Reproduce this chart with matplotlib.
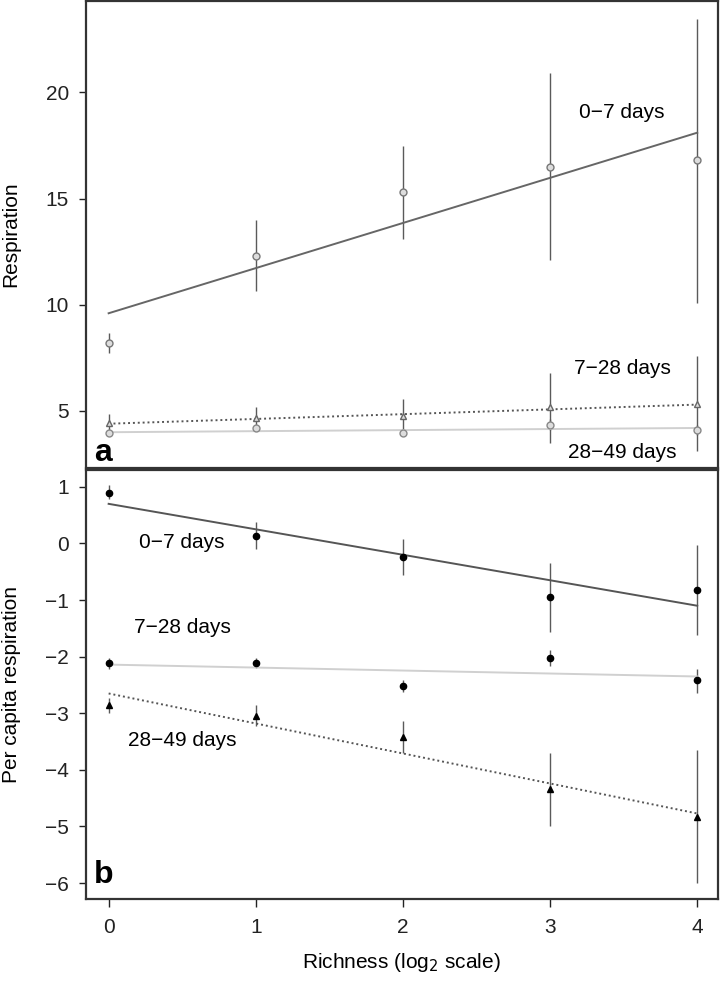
import matplotlib
matplotlib.use("Agg")
import matplotlib.pyplot as plt
import numpy as np

plt.rcParams['font.family'] = ['Liberation Sans', 'DejaVu Sans']

richness = [0, 1, 2, 3, 4]

# panel a: respiration
resp_07 = [8.2, 12.3, 15.3, 16.5, 16.8]
resp_07_lo = [7.75, 10.65, 13.1, 12.1, 10.1]
resp_07_hi = [8.65, 14.0, 17.45, 20.9, 23.45]
resp_07_fit = [9.6, 18.1]

resp_728 = [4.45, 4.67, 4.75, 5.18, 5.33]
resp_728_lo = [4.1, 4.2, 4.0, 3.5, 3.1]
resp_728_hi = [4.85, 5.2, 5.55, 6.8, 7.6]
resp_728_fit = [4.4, 5.3]

resp_2849 = [3.97, 4.2, 3.98, 4.34, 4.1]
resp_2849_lo = [3.85, 4.05, 3.8, 4.1, 3.85]
resp_2849_hi = [4.1, 4.35, 4.15, 4.6, 4.35]
resp_2849_fit = [4.0, 4.2]

# panel b: per capita respiration
pc_07 = [0.9, 0.14, -0.24, -0.95, -0.83]
pc_07_lo = [0.78, -0.09, -0.56, -1.57, -1.62]
pc_07_hi = [1.03, 0.38, 0.08, -0.35, -0.03]
pc_07_fit = [0.7, -1.1]

pc_728 = [-2.12, -2.11, -2.52, -2.02, -2.42]
pc_728_lo = [-2.22, -2.2, -2.62, -2.17, -2.64]
pc_728_hi = [-2.02, -2.02, -2.42, -1.88, -2.22]
pc_728_fit = [-2.14, -2.35]

pc_2849 = [-2.85, -3.04, -3.42, -4.34, -4.83]
pc_2849_lo = [-3.0, -3.23, -3.7, -5.0, -5.99]
pc_2849_hi = [-2.73, -2.85, -3.14, -3.7, -3.65]
pc_2849_fit = [-2.65, -4.77]

fig = plt.figure(figsize=(7.2, 9.83), dpi=100)
ax1 = fig.add_axes([0.119, 0.524, 0.878, 0.475])
ax2 = fig.add_axes([0.119, 0.0855, 0.878, 0.4365])

xr = [richness[0], richness[-1]]


def series(ax, y, lo, hi, fit, marker, mfc, mec, ls, lc, ms):
    ax.vlines(richness, lo, hi, color="#5a5a5a", lw=1.0, zorder=2)
    ax.plot(xr, fit, color=lc, ls=ls, lw=1.4, zorder=3)
    ax.plot(richness, y, ls="none", marker=marker, ms=ms, mfc=mfc, mec=mec, mew=1.0, zorder=4)


series(ax1, resp_07, resp_07_lo, resp_07_hi, resp_07_fit, "o", "#dddddd", "#777777", "-", "#666666", 5)
series(ax1, resp_728, resp_728_lo, resp_728_hi, resp_728_fit, "^", "#dddddd", "#666666", (0, (1, 1.5)), "#555555", 5)
series(ax1, resp_2849, resp_2849_lo, resp_2849_hi, resp_2849_fit, "o", "#dddddd", "#888888", "-", "#d0d0d0", 5)

series(ax2, pc_07, pc_07_lo, pc_07_hi, pc_07_fit, "o", "black", "black", "-", "#555555", 4.5)
series(ax2, pc_728, pc_728_lo, pc_728_hi, pc_728_fit, "o", "black", "black", "-", "#d0d0d0", 4.5)
series(ax2, pc_2849, pc_2849_lo, pc_2849_hi, pc_2849_fit, "^", "black", "black", (0, (1, 1.5)), "#555555", 4.5)

for ax in (ax1, ax2):
    ax.set_xlim(-0.156, 4.14)
    for s in ax.spines.values():
        s.set_linewidth(1.6)
        s.set_color("#333333")
    ax.tick_params(axis="y", direction="out", length=5, width=1, pad=7, labelsize=15, colors="#222222")

ax1.set_ylim(2.32, 24.3)
ax1.set_yticks([5, 10, 15, 20])
ax1.set_xticks([])
ax1.set_ylabel("Respiration", fontsize=15)
ax1.yaxis.set_label_coords(-0.103, 0.5)

ax2.set_ylim(-6.28, 1.3)
ax2.set_yticks([1, 0, -1, -2, -3, -4, -5, -6])
ax2.set_xticks(richness)
ax2.tick_params(axis="x", direction="out", length=6, width=1, labelsize=15, pad=8, colors="#222222")
ax2.set_ylabel("Per capita respiration", fontsize=15)
ax2.yaxis.set_label_coords(-0.103, 0.5)
ax2.set_xlabel("Richness (log$_2$ scale)", fontsize=15, labelpad=10)

ax1.text(3.49, 19.04, "0\u22127 days", fontsize=15, ha="center", va="center")
ax1.text(3.49, 7.0, "7\u221228 days", fontsize=15, ha="center", va="center")
ax1.text(3.49, 3.03, "28\u221249 days", fontsize=15, ha="center", va="center")
ax1.text(-0.1, 3.0, "a", fontsize=23, fontweight="bold", va="center", ha="left")

ax2.text(0.5, 0.01, "0\u22127 days", fontsize=15, ha="center", va="center")
ax2.text(0.5, -1.48, "7\u221228 days", fontsize=15, ha="center", va="center")
ax2.text(0.5, -3.48, "28\u221249 days", fontsize=15, ha="center", va="center")
ax2.text(-0.1, -5.85, "b", fontsize=23, fontweight="bold", va="center", ha="left")

fig.savefig("out.png", dpi=100)
